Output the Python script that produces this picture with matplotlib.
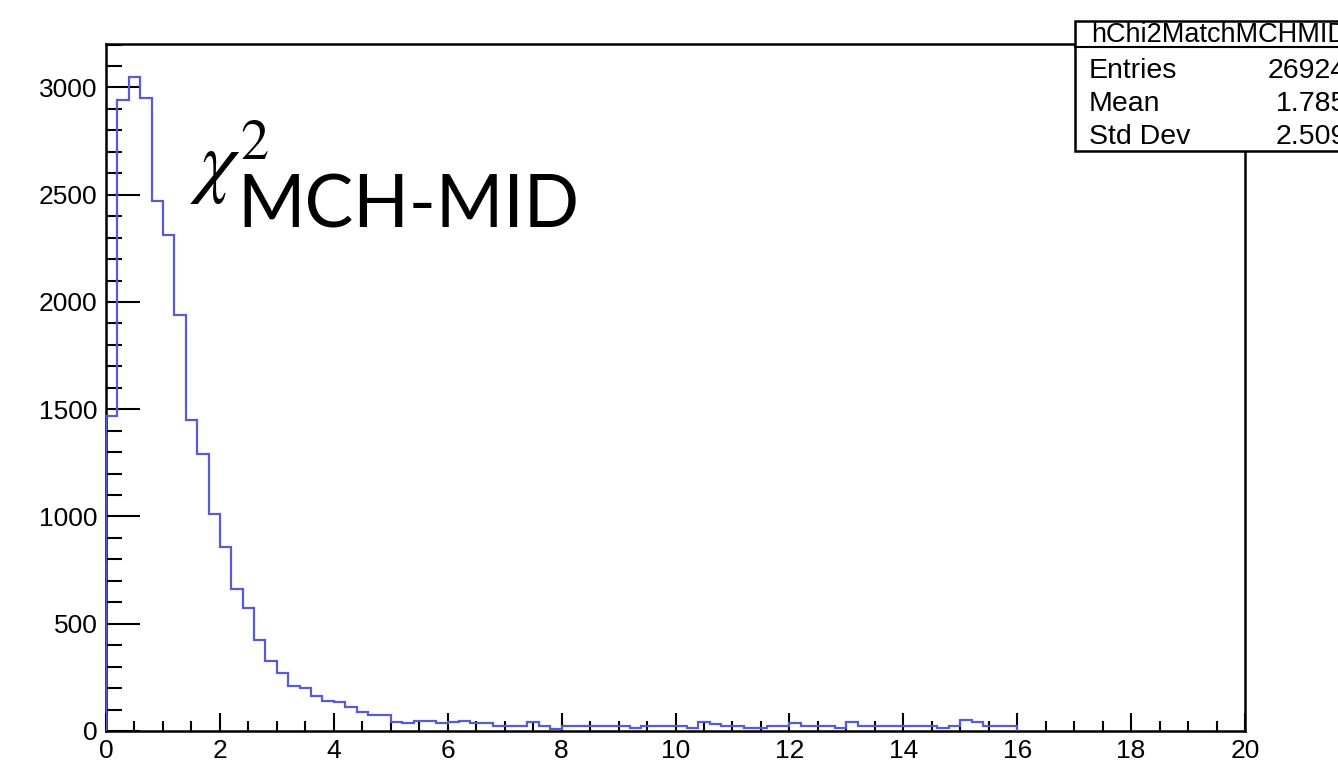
import numpy as np
import matplotlib.pyplot as plt
from matplotlib.patches import Rectangle
from matplotlib.lines import Line2D
from matplotlib.ticker import MultipleLocator

plt.rcParams['font.family'] = ['Liberation Sans', 'DejaVu Sans']
plt.rcParams['mathtext.fontset'] = 'stix'

# chi2 of the MCH-MID track match, 0.2 wide bins starting at 0
bin_width = 0.2
counts = [
    1470, 2940, 3050, 2950, 2470, 2310, 1940, 1450, 1290, 1010,
    860, 660, 573, 424, 324, 272, 212, 202, 162, 138,
    136, 112, 87, 75, 75, 40, 36, 45, 45, 36,
    40, 45, 36, 36, 25, 25, 25, 40, 25, 9,
    25, 25, 25, 25, 25, 25, 12, 25, 25, 25,
    25, 12, 40, 31, 25, 25, 12, 12, 25, 25,
    36, 25, 25, 25, 12, 40, 25, 25, 25, 25,
    25, 25, 25, 12, 25, 50, 40, 25, 25, 25,
]
x_range = (0, 20)

hist_name = "hChi2MatchMCHMID"
stat_labels = ["Entries", "Mean", "Std Dev"]
stat_values = ["26924", "1.785", "2.509"]

W, H = 1338, 767


def fx(px):
    return px / W


def fy(py):
    return 1 - py / H


fig = plt.figure(figsize=(W / 100, H / 100), dpi=100)
fig.patch.set_facecolor("white")

ax = fig.add_axes([fx(106), fy(731), fx(1245) - fx(106), fy(44) - fy(731)])
edges = np.arange(len(counts) + 1) * bin_width
ax.stairs(counts, edges, baseline=0, color="#5a5ad2", linewidth=1.6, zorder=3)

ax.set_xlim(*x_range)
ax.set_ylim(0, 1.05 * max(counts))

ax.xaxis.set_major_locator(MultipleLocator(2))
ax.xaxis.set_minor_locator(MultipleLocator(0.5))
ax.yaxis.set_major_locator(MultipleLocator(500))
ax.yaxis.set_minor_locator(MultipleLocator(100))

ax.tick_params(which="both", direction="in", top=False, right=False,
               width=1.5, color="black", labelsize=19)
ax.tick_params(axis="x", which="major", length=13, pad=6)
ax.tick_params(axis="x", which="minor", length=7.2)
ax.tick_params(axis="y", which="major", length=24.5, pad=6)
ax.tick_params(axis="y", which="minor", length=11.5)
for sp in ax.spines.values():
    sp.set_linewidth(1.8)

# stats box, partly cut by the canvas edge
box_l, box_r, box_t, box_b = 1075, 1363, 21, 151
fig.add_artist(Rectangle((fx(box_l), fy(box_b)), fx(box_r) - fx(box_l),
                         fy(box_t) - fy(box_b), transform=fig.transFigure,
                         facecolor="white", edgecolor="black", linewidth=1.8,
                         zorder=5))
fig.add_artist(Line2D([fx(box_l), fx(box_r)], [fy(47), fy(47)],
                      transform=fig.transFigure, color="black",
                      linewidth=1.5, zorder=6))
fig.text(fx((box_l + box_r) / 2), fy(42), hist_name, ha="center",
         va="baseline", fontsize=19.5, zorder=7)
for i, (lab, val) in enumerate(zip(stat_labels, stat_values)):
    yb = fy(78 + 33 * i)
    fig.text(fx(1089), yb, lab, ha="left", va="baseline", fontsize=20.5, zorder=7)
    fig.text(fx(1347), yb, val, ha="right", va="baseline", fontsize=20.5, zorder=7)

# axis title placed inside the frame
fig.text(fx(190), fy(188), r"$\chi^{2}$", ha="left", va="baseline",
         fontsize=58, zorder=4)
fig.text(fx(237), fy(228), "MCH-MID", ha="left", va="baseline",
         fontsize=52.5, family=["Lato", "DejaVu Sans"], zorder=4)

fig.savefig("out.png", dpi=100)
